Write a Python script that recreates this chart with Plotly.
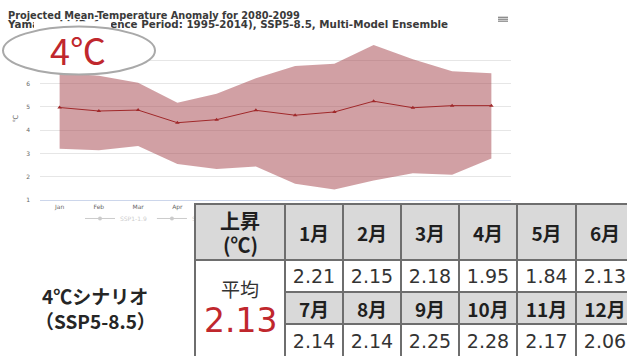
import plotly.graph_objects as go

# ---- chart data: projected monthly mean-temperature anomaly (°C), 2080-2099, SSP5-8.5
months = ["Jan", "Feb", "Mar", "Apr", "May", "Jun",
          "Jul", "Aug", "Sep", "Oct", "Nov", "Dec"]
ens_mean = [4.97, 4.82, 4.86, 4.32, 4.45, 4.85, 4.64, 4.78, 5.24, 4.96, 5.05, 5.05]
ens_max = [6.45, 6.33, 6.03, 5.17, 5.56, 6.22, 6.75, 6.84, 7.64, 7.03, 6.52, 6.43]
ens_min = [3.21, 3.14, 3.32, 2.55, 2.34, 2.45, 1.71, 1.46, 1.85, 2.16, 2.10, 2.79]
hidden_series = ["SSP1-1.9", "SSP2-4.5"]

title_lines = ["Projected Mean-Temperature Anomaly for 2080-2099",
               "Yamanashi (Reference Period: 1995-2014), SSP5-8.5, Multi-Model Ensemble"]

# ---- table data: monthly rise (°C)
table_corner = ["上昇", "(℃)"]
month_labels_1 = ["1月", "2月", "3月", "4月", "5月", "6月"]
rise_1 = ["2.21", "2.15", "2.18", "1.95", "1.84", "2.13"]
month_labels_2 = ["7月", "8月", "9月", "10月", "11月", "12月"]
rise_2 = ["2.14", "2.14", "2.25", "2.28", "2.17", "2.06"]
avg_label = "平均"
avg_value = "2.13"
scenario_lines = ["4℃シナリオ", "（SSP5-8.5）"]
badge_text = "4℃"

W, H = 627, 356


def px(x):
    return x / W


def py(y):
    return 1 - y / H


fig = go.Figure()

# ensemble range band
fig.add_trace(go.Scatter(x=months, y=ens_max, mode="lines", line=dict(width=0),
                         showlegend=False, hoverinfo="skip"))
fig.add_trace(go.Scatter(x=months, y=ens_min, mode="lines", line=dict(width=0),
                         fill="tonexty", fillcolor="rgba(163,66,74,0.5)",
                         showlegend=False, hoverinfo="skip"))
# ensemble mean
fig.add_trace(go.Scatter(x=months, y=ens_mean, mode="lines+markers",
                         line=dict(color="rgb(160,40,42)", width=1),
                         marker=dict(symbol="triangle-up", size=4, color="rgb(160,40,42)"),
                         showlegend=False))
# scenarios switched off in the legend
for name in hidden_series:
    fig.add_trace(go.Scatter(x=months, y=[None] * len(months), name=name,
                             mode="lines+markers", visible="legendonly",
                             line=dict(color="#999", width=1),
                             marker=dict(symbol="circle", size=4, color="#999")))

# chart title on a pixel overlay so the badge can sit on top of it
title_sizes = [9.8, 10.3]
title_rows = [12.6, 22.2]
for text, size, yy in zip(title_lines, title_sizes, title_rows):
    fig.add_trace(go.Scatter(x=[8], y=[yy], text=[text], mode="text",
                             textposition="middle right",
                             textfont=dict(family="DejaVu Sans", size=size, color="#3a3a3a",
                                           weight="bold"),
                             xaxis="x2", yaxis="y2", showlegend=False, hoverinfo="skip",
                             cliponaxis=False))

fig.update_layout(
    width=W, height=H,
    margin=dict(l=0, r=0, t=0, b=0),
    paper_bgcolor="white", plot_bgcolor="rgba(0,0,0,0)",
    xaxis=dict(type="category", categoryorder="array", categoryarray=months,
               range=[-0.5, 11.5], domain=[px(40), px(511)],
               showgrid=False, showline=True, linecolor="#ccd6eb", linewidth=1,
               tickfont=dict(family="DejaVu Sans", size=6, color="#666"),
               zeroline=False, fixedrange=True),
    yaxis=dict(range=[1, 8], dtick=1, domain=[py(200.3), py(33.3)],
               gridcolor="#e6e6e6", zeroline=False, showline=False,
               tickfont=dict(family="DejaVu Sans", size=6, color="#666"),
               ticklabelstandoff=9,
               title=dict(text="℃", font=dict(family="DejaVu Sans", size=7, color="#666"),
                          standoff=6),
               fixedrange=True),
    xaxis2=dict(domain=[0, 1], range=[0, W], visible=False, anchor="y2", fixedrange=True),
    yaxis2=dict(domain=[0, 1], range=[H, 0], visible=False, anchor="x2", fixedrange=True),
    legend=dict(orientation="h", x=px(80), y=py(204), xanchor="left", yanchor="top",
                traceorder="normal",
                font=dict(family="DejaVu Sans", size=6, color="#999"),
                bgcolor="rgba(0,0,0,0)", itemwidth=30),
    showlegend=True,
)

shapes = []
# white backing of the badge, then its ellipse
shapes.append(dict(type="rect", xref="paper", yref="paper",
                   x0=px(34), x1=px(111), y0=py(27), y1=py(17.6),
                   fillcolor="white", line=dict(width=0), layer="above"))
shapes.append(dict(type="circle", xref="paper", yref="paper",
                   x0=px(3), x1=px(155), y0=py(72), y1=py(23),
                   fillcolor="white", line=dict(color="#a9a9a9", width=2), layer="above"))
# menu icon
for yy in (13.5, 15.5, 17.5):
    shapes.append(dict(type="line", xref="paper", yref="paper",
                       x0=px(498), x1=px(508), y0=py(yy), y1=py(yy),
                       line=dict(color="#666", width=1), layer="above"))
fig.update_layout(shapes=shapes)

annotations = []
JP = "Noto Sans CJK JP"
GRID = "#6e6e6e"
HEAD_BG = "#d9d9d9"
BW = 2


def cell(x0, x1, y0, y1, text, bg, font):
    annotations.append(dict(
        xref="paper", yref="paper", x=px(x0 - 1), y=py(y0 - 1),
        xanchor="left", yanchor="top", showarrow=False,
        width=x1 - x0 - 2, height=y1 - y0 - 2,
        borderwidth=BW, borderpad=0, bordercolor=GRID, bgcolor=bg,
        text=text, align="center", valign="middle", font=font))


def label(x, y, text, font):
    annotations.append(dict(xref="paper", yref="paper", x=px(x), y=py(y),
                            xanchor="center", yanchor="middle", showarrow=False,
                            text=text, font=font))


cols = [285, 343, 401, 459, 517, 576, 634]
rows = [204, 261, 293.5, 326, 359]
head_font = dict(family=JP, size=19, color="#1f1f1f", weight="bold")
num_font = dict(family="DejaVu Sans", size=19, color="#333")

# corner cell and merged average cell
cell(194.5, cols[0], rows[0], rows[1], "\u00a0", HEAD_BG, head_font)
cell(194.5, cols[0], rows[1], rows[4], "\u00a0", "white", head_font)
for i in range(6):
    x0, x1 = cols[i], cols[i + 1]
    cell(x0, x1, rows[0], rows[1], month_labels_1[i], HEAD_BG, head_font)
    cell(x0, x1, rows[1], rows[2], rise_1[i], "white", num_font)
    cell(x0, x1, rows[2], rows[3], month_labels_2[i], HEAD_BG, head_font)
    cell(x0, x1, rows[3], rows[4], rise_2[i], "white", num_font)

label(240, 221, table_corner[0], dict(family=JP, size=20, color="#1f1f1f", weight="bold"))
label(240, 245, table_corner[1], dict(family=JP, size=20, color="#1f1f1f", weight="bold"))
label(240, 290, avg_label, dict(family=JP, size=19, color="#333"))
label(240, 323, avg_value, dict(family="DejaVu Sans", size=33, color="#c0272d"))

label(95, 297, scenario_lines[0], dict(family=JP, size=19, color="#262626", weight="bold"))
label(95, 323, scenario_lines[1], dict(family=JP, size=19, color="#262626", weight="bold"))

label(78, 46, badge_text, dict(family=JP, size=36, color="#c0272d"))

fig.update_layout(annotations=annotations)

fig.write_html("out.html")
